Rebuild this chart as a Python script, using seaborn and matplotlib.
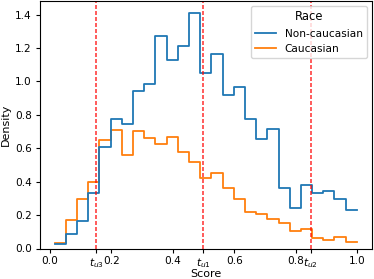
import numpy as np
import pandas as pd
import matplotlib
matplotlib.use("Agg")
import matplotlib.pyplot as plt
import seaborn as sns

# bin edges of the score histogram (27 bins)
bin_edges = list(np.linspace(0.015, 1.0, 28))

# densities read per bin (common normalisation over both groups)
non_caucasian = [0.025, 0.085, 0.167, 0.335, 0.613, 0.779, 0.751, 0.947, 0.991,
                 1.281, 1.131, 1.221, 1.419, 1.055, 1.167, 0.923, 0.969, 0.779,
                 0.659, 0.717, 0.361, 0.241, 0.383, 0.335, 0.343, 0.295, 0.229]
caucasian = [0.033, 0.171, 0.300, 0.400, 0.655, 0.710, 0.560, 0.705, 0.665,
             0.631, 0.671, 0.581, 0.521, 0.427, 0.455, 0.361, 0.299, 0.221,
             0.205, 0.175, 0.155, 0.107, 0.115, 0.061, 0.049, 0.067, 0.039]

groups = ["Non-caucasian", "Caucasian"]

# thresholds drawn as dashed lines
thresholds = [0.15, 0.5, 0.85]
threshold_labels = [r"$t_{u3}$", r"$t_{u1}$", r"$t_{u2}$"]
base_ticks = [0.0, 0.2, 0.4, 0.6, 0.8, 1.0]

FS = 7.6
plt.rcParams["font.size"] = FS

edges = np.array(bin_edges)
centers = (edges[:-1] + edges[1:]) / 2
df = pd.concat([
    pd.DataFrame({"Score": centers, "Race": groups[0], "w": non_caucasian}),
    pd.DataFrame({"Score": centers, "Race": groups[1], "w": caucasian}),
], ignore_index=True)

fig = plt.figure(figsize=(3.74, 2.79), dpi=100)
ax = fig.add_axes([39.5 / 374, (279 - 248.5) / 279, (372 - 39.5) / 374, 247.5 / 279])

sns.histplot(data=df, x="Score", hue="Race", weights="w", bins=bin_edges,
             stat="density", element="step", fill=False, hue_order=groups,
             linewidth=1.3, ax=ax)

for t in thresholds:
    ax.axvline(t, color="red", linestyle="--", dashes=(2.4, 1.2),
               alpha=0.75, linewidth=1.2)

ticks = base_ticks + thresholds
labels = [f"{v:.1f}" for v in base_ticks] + threshold_labels
ax.set_xticks(ticks)
ax.set_xticklabels(labels)
ax.tick_params(labelsize=FS, length=3, pad=2.5)
ax.set_xlabel("Score", fontsize=8)
ax.xaxis.set_label_coords(0.5, -0.082)
ax.set_ylabel("Density", fontsize=8, labelpad=3)

sns.move_legend(ax, "upper right", fontsize=FS, title_fontsize=8.3)

fig.savefig("out.png", dpi=100)
